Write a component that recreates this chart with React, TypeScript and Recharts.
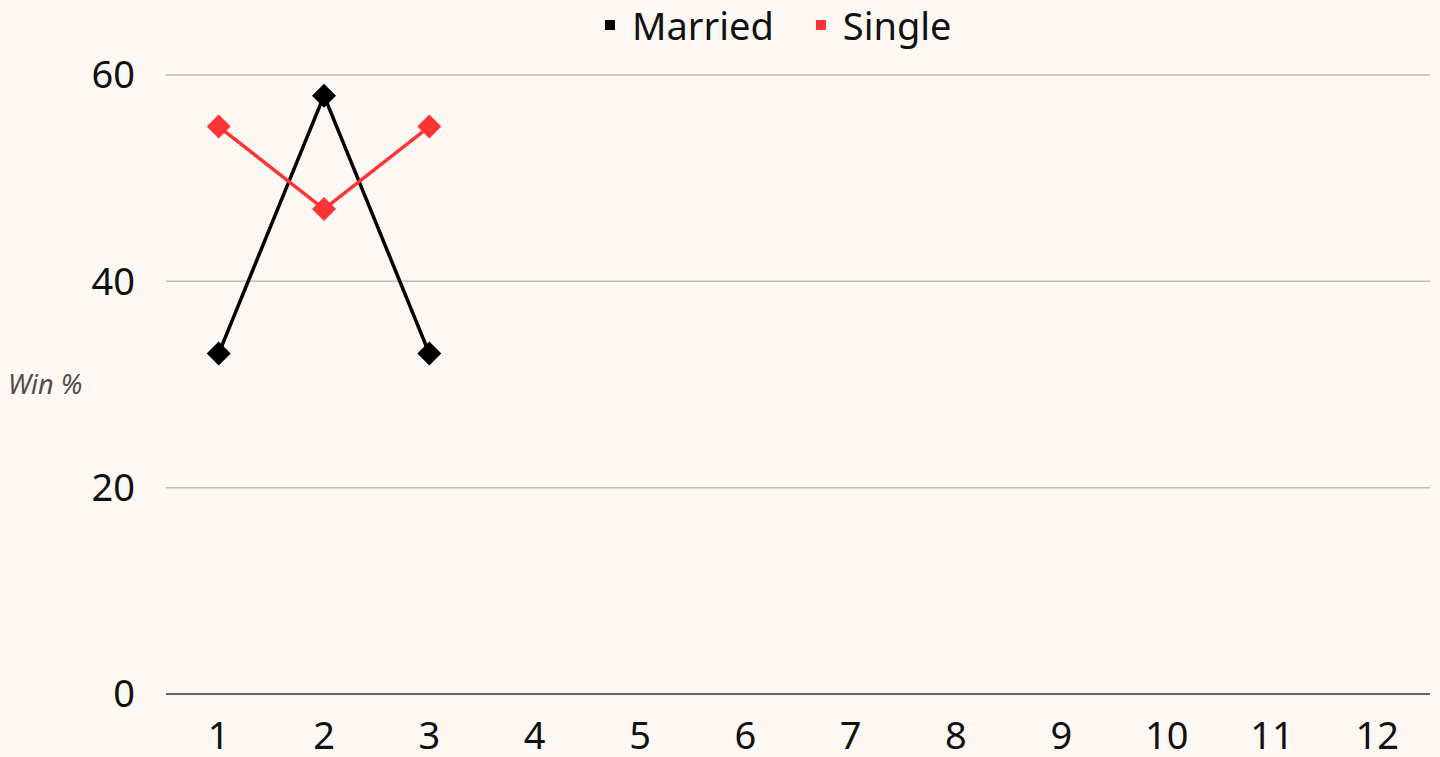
import React from 'react';
import { LineChart, Line, XAxis, YAxis, CartesianGrid, Legend } from 'recharts';

const categories = ['1', '2', '3', '4', '5', '6', '7', '8', '9', '10', '11', '12'];
const married: (number | null)[] = [33, 58, 33, null, null, null, null, null, null, null, null, null];
const single: (number | null)[] = [55, 47, 55, null, null, null, null, null, null, null, null, null];
const yTicks = [0, 20, 40, 60];

const data = categories.map((c, i) => ({ game: c, married: married[i], single: single[i] }));

const BG = '#fdf8f4';
const RED = '#ff3434';
const FONT = '"Noto Sans", sans-serif';

const Diamond = (color: string) => (props: any) => {
  const { cx, cy, value } = props;
  if (cx == null || cy == null || value == null) return <g key={props.key} />;
  const r = 12;
  return (
    <polygon
      key={props.key}
      points={`${cx},${cy - r} ${cx + r},${cy} ${cx},${cy + r} ${cx - r},${cy}`}
      fill={color}
    />
  );
};

const legendItems = [
  { name: 'Married', color: '#000000' },
  { name: 'Single', color: RED },
];

const renderLegend = () => (
  <div style={{ display: 'flex', alignItems: 'center', fontFamily: FONT, fontSize: 38, color: '#111', lineHeight: '46px' }}>
    {legendItems.map((it) => (
      <div key={it.name} style={{ display: 'flex', alignItems: 'center', marginRight: 42 }}>
        <span style={{ display: 'inline-block', width: 10, height: 10, background: it.color, marginRight: 17 }} />
        <span>{it.name}</span>
      </div>
    ))}
  </div>
);

export default function App() {
  return (
    <div style={{ position: 'absolute', left: 0, top: 0, width: 1440, height: 757, background: BG }}>
      <LineChart width={1440} height={757} data={data} margin={{ top: 75, right: 10, bottom: 0, left: 0 }}>
        <CartesianGrid vertical={false} stroke="#c2bcb7" strokeWidth={1.5} />
        <XAxis
          dataKey="game"
          height={63}
          padding={{ left: 52.67, right: 52.67 }}
          axisLine={{ stroke: '#666', strokeWidth: 2 }}
          tickLine={false}
          tickMargin={22}
          tick={{ fill: '#111', fontSize: 38, fontFamily: FONT }}
          interval={0}
        />
        <YAxis
          width={166}
          domain={[0, 60]}
          ticks={yTicks}
          axisLine={false}
          tickLine={false}
          tickMargin={25}
          tick={{ fill: '#111', fontSize: 38, fontFamily: FONT }}
          label={{
            value: 'Win %',
            position: 'insideLeft',
            offset: 8,
            fill: '#5a4b4b',
            fontSize: 27,
            fontStyle: 'italic',
            fontFamily: FONT,
          }}
        />
        <Legend
          layout="horizontal"
          verticalAlign="middle"
          align="center"
          content={renderLegend}
          wrapperStyle={{ top: 2, left: 605, width: 'auto', height: 46 }}
        />
        <Line
          type="linear"
          dataKey="married"
          name="Married"
          stroke="#000"
          strokeWidth={3.5}
          dot={Diamond('#000')}
          activeDot={false}
          isAnimationActive={false}
        />
        <Line
          type="linear"
          dataKey="single"
          name="Single"
          stroke={RED}
          strokeWidth={3.5}
          dot={Diamond(RED)}
          activeDot={false}
          isAnimationActive={false}
        />
      </LineChart>
    </div>
  );
}
